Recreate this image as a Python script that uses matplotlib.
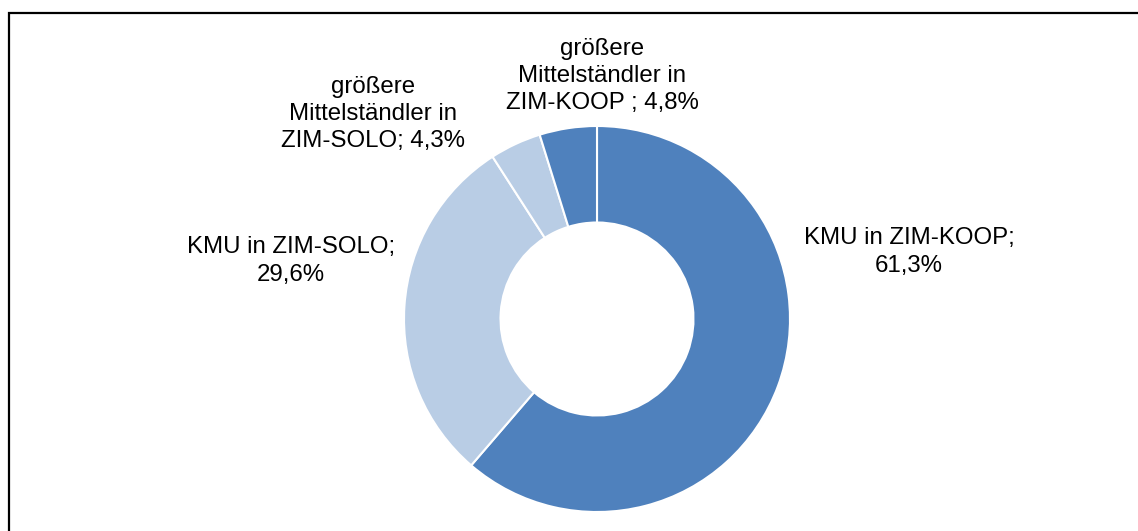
import matplotlib
matplotlib.use("Agg")
from matplotlib import pyplot as plt
from matplotlib.patches import Rectangle

plt.rcParams['font.family'] = ['Liberation Sans', 'DejaVu Sans']

# data (clockwise from 12 o'clock)
labels = ["KMU in ZIM-KOOP;\n61,3%",
          "KMU in ZIM-SOLO;\n29,6%",
          "größere\nMittelständler in\nZIM-SOLO; 4,3%",
          "größere\nMittelständler in\nZIM-KOOP ; 4,8%"]
shares = [61.3, 29.6, 4.3, 4.8]
colors = ["#4F81BD", "#B9CDE5", "#B9CDE5", "#4F81BD"]

# label centres in pixel coords (x, y from top)
label_pos = [(909, 252), (291, 261), (373, 114), (602, 76)]

W, H = 1138, 531
fig = plt.figure(figsize=(W / 100, H / 100), dpi=100)
ax = fig.add_axes([0, 0, 1, 1])

cx, cy, r = 597, H - 319, 193
ax.pie(shares, colors=colors, startangle=90, counterclock=False,
       center=(cx, cy), radius=r, frame=True,
       wedgeprops=dict(width=r * 0.5, edgecolor="white", linewidth=1.5))
ax.set_xlim(0, W)
ax.set_ylim(0, H)
ax.set_aspect("equal")
ax.axis("off")

for lab, (x, y) in zip(labels, label_pos):
    ax.text(x, H - y, lab, ha="center", va="center", fontsize=17.3,
            linespacing=1.32, color="black")

# chart border (left and top visible, rest runs off the image)
fig.patches.append(Rectangle((9 / W, -0.1), 1.2, (H - 13) / H + 0.1,
                             transform=fig.transFigure, fill=False,
                             edgecolor="black", linewidth=1.6))

fig.savefig("out.png", dpi=100)
